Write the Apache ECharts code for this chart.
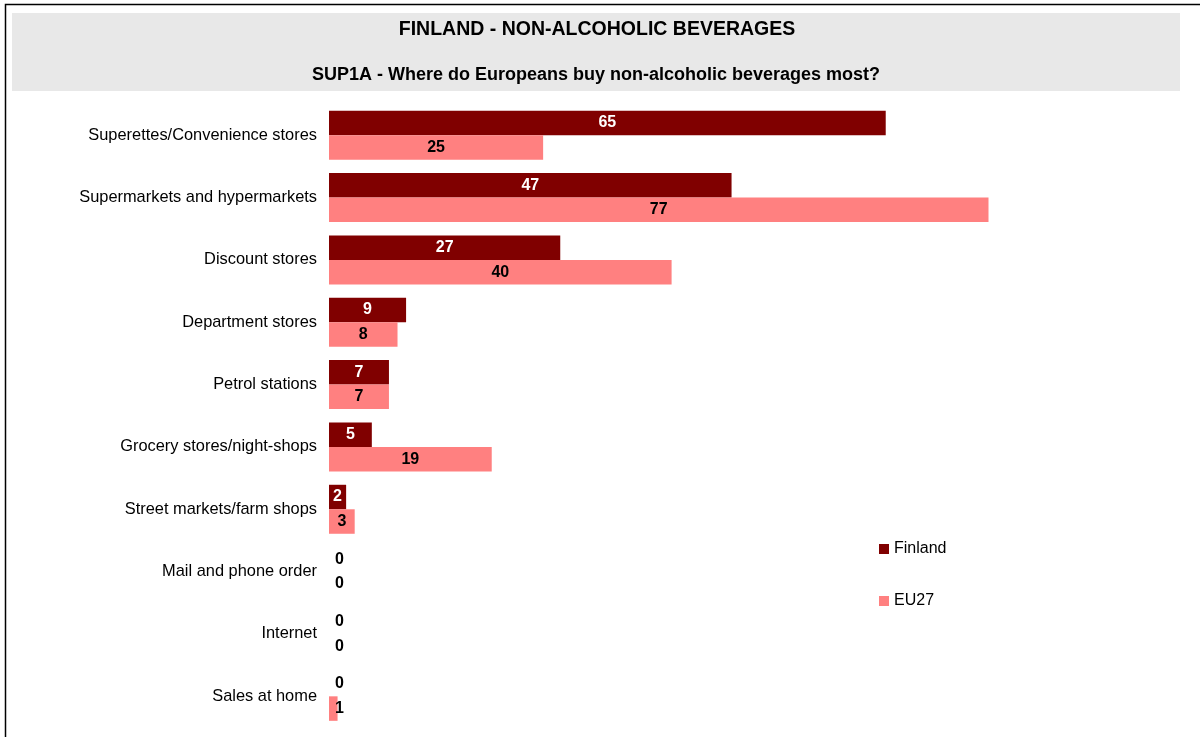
<!DOCTYPE html>
<html>
<head>
<meta charset="utf-8">
<script src="https://cdn.jsdelivr.net/npm/echarts@6/dist/echarts.min.js"></script>
<style>
  html, body { margin: 0; padding: 0; background: #fff; }
  #chart { width: 1200px; height: 737px; }
</style>
</head>
<body>
<div id="chart"></div>
<script>
// Outlet categories, top to bottom
const categories = [
  'Superettes/Convenience stores',
  'Supermarkets and hypermarkets',
  'Discount stores',
  'Department stores',
  'Petrol stations',
  'Grocery stores/night-shops',
  'Street markets/farm shops',
  'Mail and phone order',
  'Internet',
  'Sales at home'
];
// Share of respondents (%)
const finland = [65, 47, 27, 9, 7, 5, 2, 0, 0, 0];
const eu27 = [25, 77, 40, 8, 7, 19, 3, 0, 0, 1];

const FONT = '"Liberation Sans", Arial, sans-serif';

// Very short bars get their value written just past the axis, in black
function toItems(values, labelColor) {
  return values.map(v => {
    if (v < 2) {
      return {
        value: v,
        label: { position: 'insideLeft', distance: 6, color: '#000' }
      };
    }
    return { value: v, label: { color: labelColor } };
  });
}

const chart = echarts.init(document.getElementById('chart'), null, { renderer: 'canvas' });
chart.setOption({
  animation: false,
  backgroundColor: '#fff',
  graphic: [
    {
      type: 'rect', z: -10,
      shape: { x: 5.5, y: 4.5, width: 1210, height: 760 },
      style: { fill: '#fff', stroke: '#000', lineWidth: 1.5 }
    },
    {
      type: 'rect', z: -5,
      shape: { x: 12, y: 13, width: 1168, height: 78 },
      style: { fill: '#e8e8e8' }
    },
    {
      type: 'text', z: 10,
      style: {
        x: 597, y: 30, text: 'FINLAND - NON-ALCOHOLIC BEVERAGES',
        font: 'bold 19.5px ' + FONT, fill: '#000',
        textAlign: 'center', textVerticalAlign: 'middle'
      }
    },
    {
      type: 'text', z: 10,
      style: {
        x: 596, y: 75, text: 'SUP1A - Where do Europeans buy non-alcoholic beverages most?',
        font: 'bold 18px ' + FONT, fill: '#000',
        textAlign: 'center', textVerticalAlign: 'middle'
      }
    }
  ],
  legend: {
    orient: 'vertical',
    left: 874, top: 536,
    itemWidth: 10, itemHeight: 10, itemGap: 36,
    icon: 'rect',
    textStyle: { fontFamily: FONT, fontSize: 16, color: '#000' },
    data: ['Finland', 'EU27']
  },
  grid: { left: 329, top: 104, width: 685.2, height: 623.5, containLabel: false },
  xAxis: {
    type: 'value', min: 0, max: 80,
    show: false
  },
  yAxis: {
    type: 'category',
    inverse: true,
    data: categories,
    axisLine: { show: false },
    axisTick: { show: false },
    axisLabel: { fontFamily: FONT, fontSize: 16.4, color: '#000', margin: 12 }
  },
  series: [
    {
      name: 'Finland', type: 'bar',
      data: toItems(finland, '#fff'),
      itemStyle: { color: '#800000' },
      barWidth: 24.5, barGap: '0%',
      label: { show: true, position: 'inside', fontFamily: FONT, fontSize: 16, fontWeight: 'bold' }
    },
    {
      name: 'EU27', type: 'bar',
      data: toItems(eu27, '#000'),
      itemStyle: { color: '#ff8080' },
      barWidth: 24.5, barGap: '0%',
      label: { show: true, position: 'inside', fontFamily: FONT, fontSize: 16, fontWeight: 'bold' }
    }
  ]
});
</script>
</body>
</html>
